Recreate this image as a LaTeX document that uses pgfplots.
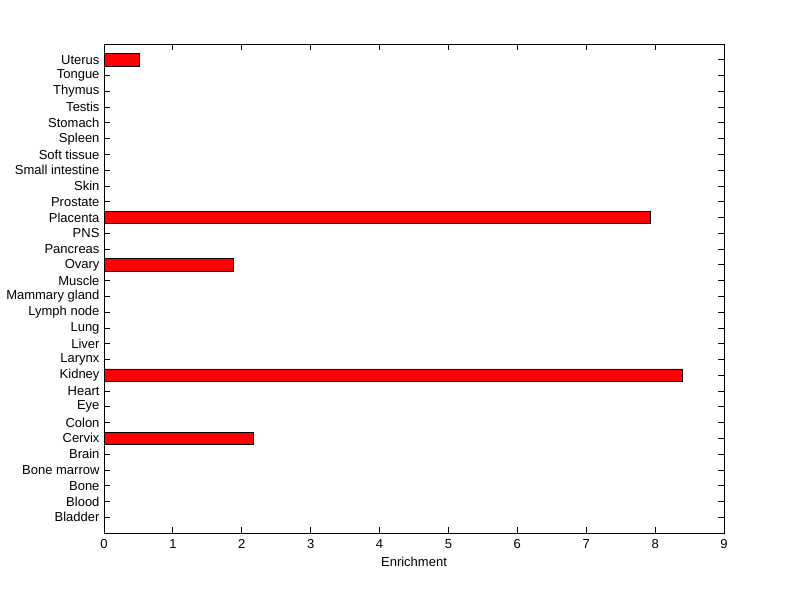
\documentclass[border=0pt]{standalone}
\usepackage{pgfplots}
\pgfplotsset{compat=1.18}
\usepackage{fontspec}
\setmainfont{Liberation Sans}
\begin{document}
\begin{tikzpicture}
  \path[use as bounding box] (0pt,0pt) rectangle (800pt,599pt);
  \begin{axis}[
    at={(104pt,66pt)}, anchor=south west,
    scale only axis,
    width=620pt, height=489pt,
    xbar, bar width=0.8,
    xmin=0, xmax=9,
    ymin=0, ymax=31,
    xtick={0,1,...,9},
    ytick={1,...,30},
    yticklabels={Bladder,Blood,Bone,Bone marrow,Brain,Cervix,Colon,Eye,Heart,Kidney,Larynx,Liver,Lung,Lymph node,Mammary gland,Muscle,Ovary,Pancreas,PNS,Placenta,Prostate,Skin,Small intestine,Soft tissue,Spleen,Stomach,Testis,Thymus,Tongue,Uterus},
    tick align=inside,
    major tick length=6pt,
    tick style={black, line width=0.8pt},
    axis line style={line width=0.8pt},
    ticklabel style={font=\fontsize{13}{15}\selectfont},
    xticklabel style={yshift=-3pt},
    yticklabel style={xshift=-1pt},
    /pgf/number format/assume math mode=true,
    xlabel={Enrichment},
    xlabel style={font=\fontsize{13}{15}\selectfont, yshift=-1pt},
  ]
    \addplot[fill=red, draw=black, line width=0.8pt] coordinates {
      (0.51,30)
      (7.93,20)
      (1.88,17)
      (8.40,10)
      (2.17,6)
    };
  \end{axis}
\end{tikzpicture}
\end{document}
